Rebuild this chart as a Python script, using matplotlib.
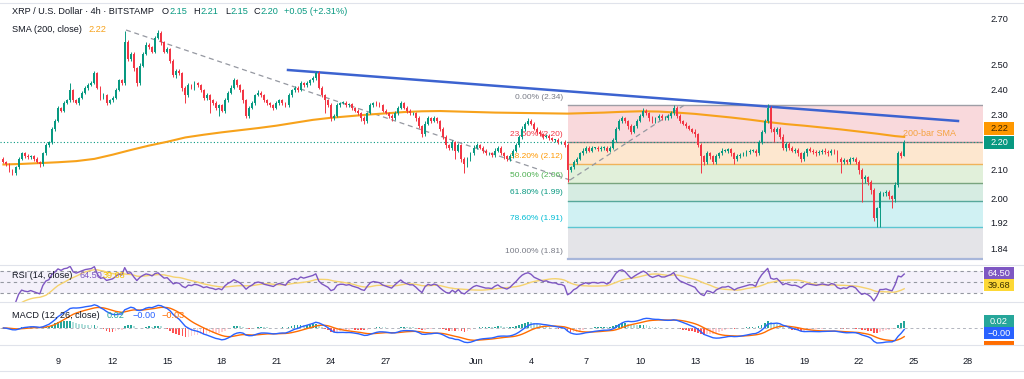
import matplotlib
matplotlib.use("Agg")
import matplotlib.pyplot as plt
import numpy as np
import pandas as pd
from matplotlib.patches import Rectangle
from matplotlib.lines import Line2D

plt.rcParams['font.family'] = ['Liberation Sans', 'DejaVu Sans']

W, H = 1024, 379

# ---- data (4h candles, XRP/USD, from 6 May) ----
first_open = 2.14
closes = [
    2.13, 2.12, 2.10, 2.09, 2.11, 2.14, 2.16, 2.15, 2.145, 2.15,
    2.14, 2.13, 2.12, 2.16, 2.19, 2.20, 2.25, 2.28, 2.33, 2.32,
    2.35, 2.36, 2.40, 2.36, 2.35, 2.37, 2.39, 2.41, 2.42, 2.43,
    2.47, 2.41, 2.37, 2.38, 2.35, 2.36, 2.37, 2.40, 2.44, 2.43,
    2.60, 2.53, 2.55, 2.49, 2.43, 2.50, 2.55, 2.59, 2.58, 2.56,
    2.62, 2.64, 2.60, 2.56, 2.57, 2.52, 2.46, 2.48, 2.47, 2.41,
    2.38, 2.42, 2.41, 2.43, 2.42, 2.40, 2.37, 2.38, 2.36, 2.35,
    2.33, 2.34, 2.32, 2.36, 2.39, 2.41, 2.44, 2.42, 2.40, 2.36,
    2.30, 2.33, 2.35, 2.38, 2.39, 2.38, 2.36, 2.35, 2.34, 2.33,
    2.35, 2.36, 2.35, 2.34, 2.38, 2.40, 2.41, 2.40, 2.43, 2.42,
    2.43, 2.44, 2.45, 2.47, 2.41, 2.38, 2.36, 2.34, 2.29, 2.30,
    2.34, 2.35, 2.35, 2.34, 2.345, 2.33, 2.32, 2.31, 2.29, 2.28,
    2.31, 2.34, 2.35, 2.345, 2.34, 2.32, 2.31, 2.30, 2.29, 2.31,
    2.33, 2.35, 2.33, 2.32, 2.31, 2.31, 2.29, 2.26, 2.23, 2.27,
    2.29, 2.28, 2.29, 2.28, 2.25, 2.22, 2.19, 2.18, 2.20, 2.17,
    2.19, 2.14, 2.12, 2.14, 2.16, 2.18, 2.19, 2.18, 2.17, 2.16,
    2.16, 2.155, 2.17, 2.18, 2.16, 2.15, 2.14, 2.15, 2.17, 2.19,
    2.22, 2.25, 2.27, 2.28, 2.27, 2.25, 2.24, 2.23, 2.22, 2.225,
    2.215, 2.21, 2.21, 2.20, 2.20, 2.19, 2.10, 2.11, 2.13, 2.14,
    2.16, 2.17, 2.18, 2.17, 2.18, 2.18, 2.175, 2.18, 2.18, 2.17,
    2.18, 2.21, 2.25, 2.28, 2.29, 2.28, 2.26, 2.24, 2.26, 2.28,
    2.30, 2.32, 2.31, 2.29, 2.28, 2.29, 2.30, 2.29, 2.29, 2.30,
    2.31, 2.33, 2.30, 2.28, 2.27, 2.26, 2.25, 2.24, 2.23, 2.19,
    2.15, 2.13, 2.16, 2.15, 2.13, 2.15, 2.16, 2.17, 2.17, 2.175,
    2.16, 2.14, 2.15, 2.155, 2.16, 2.165, 2.17, 2.17, 2.16, 2.20,
    2.24, 2.28, 2.33, 2.25, 2.24, 2.25, 2.22, 2.18, 2.195, 2.18,
    2.17, 2.172, 2.16, 2.14, 2.16, 2.175, 2.17, 2.165, 2.16, 2.165,
    2.17, 2.165, 2.16, 2.17, 2.165, 2.14, 2.13, 2.135, 2.13, 2.14,
    2.14, 2.13, 2.10, 2.07, 2.075, 2.06, 2.03, 1.94, 1.97, 2.02,
    2.02, 2.025, 2.01, 2.00, 2.05, 2.16, 2.15, 2.20,
]
# wick lengths above / below the body, in thousandths
wick_up = [
    5, 4, 6, 3, 5, 8, 6, 4, 7, 5, 4, 6, 3, 6, 8, 5, 7, 6, 9, 5,
    6, 7, 30, 5, 6, 4, 7, 5, 8, 6, 10, 6, 5, 7, 4, 6, 5, 8, 6, 7,
    50, 12, 8, 9, 6, 10, 7, 12, 9, 6, 8, 15, 9, 7, 8, 6, 10, 7, 8, 6,
    7, 8, 6, 9, 5, 7, 6, 8, 5, 6, 7, 5, 6, 8, 7, 9, 10, 6, 7, 5,
    6, 7, 8, 6, 9, 5, 6, 7, 5, 6, 8, 6, 7, 5, 9, 6, 8, 6, 7, 5,
    8, 6, 7, 10, 9, 6, 5, 7, 8, 6, 9, 5, 6, 7, 5, 6, 4, 5, 6, 7,
    6, 8, 5, 6, 7, 5, 6, 4, 5, 7, 6, 9, 5, 6, 4, 6, 5, 7, 6, 8,
    7, 5, 8, 6, 5, 7, 6, 5, 9, 6, 8, 5, 6, 7, 5, 9, 6, 5, 7, 6,
    5, 6, 8, 7, 5, 6, 4, 6, 7, 8, 6, 9, 7, 10, 6, 5, 7, 6, 5, 6,
    5, 6, 4, 6, 5, 7, 8, 6, 7, 5, 6, 8, 6, 5, 7, 4, 6, 5, 6, 5,
    6, 7, 8, 9, 8, 6, 5, 7, 6, 8, 7, 9, 6, 5, 7, 6, 8, 5, 7, 6,
    8, 10, 7, 6, 5, 7, 6, 5, 8, 6, 7, 5, 8, 6, 5, 7, 6, 8, 5, 6,
    6, 5, 7, 6, 5, 6, 7, 5, 6, 8, 7, 9, 15, 9, 7, 8, 6, 10, 7, 6,
    5, 7, 6, 5, 8, 6, 7, 5, 6, 7, 5, 8, 6, 7, 5, 6, 5, 7, 6, 8,
    6, 5, 7, 6, 8, 5, 6, 7, 5, 9, 6, 8, 7, 6, 9, 8, 7, 10,
]
wick_dn = [
    6, 5, 7, 8, 6, 5, 4, 6, 5, 7, 6, 5, 8, 6, 5, 7, 6, 8, 5, 6,
    7, 6, 5, 8, 6, 7, 5, 6, 8, 5, 6, 7, 8, 6, 9, 5, 7, 6, 5, 7,
    10, 8, 9, 12, 15, 8, 7, 6, 9, 8, 7, 6, 10, 8, 7, 9, 8, 10, 7, 12,
    30, 8, 7, 9, 6, 8, 10, 7, 50, 8, 7, 30, 6, 8, 5, 7, 6, 8, 7, 9,
    10, 8, 6, 7, 5, 9, 6, 8, 7, 9, 6, 7, 8, 6, 5, 7, 6, 8, 5, 6,
    6, 7, 5, 8, 6, 9, 50, 8, 10, 7, 6, 8, 5, 7, 6, 8, 7, 6, 9, 10,
    7, 5, 6, 8, 6, 7, 5, 8, 9, 6, 7, 5, 6, 8, 7, 6, 9, 8, 10, 7,
    6, 8, 5, 7, 9, 8, 10, 9, 8, 30, 7, 12, 30, 8, 6, 7, 5, 6, 8, 7,
    6, 8, 7, 5, 6, 9, 8, 7, 6, 5, 7, 6, 8, 5, 7, 6, 8, 7, 6, 5,
    7, 6, 8, 5, 7, 6, 40, 8, 6, 7, 5, 6, 8, 7, 6, 5, 7, 6, 8, 7,
    6, 5, 7, 6, 8, 7, 9, 8, 6, 7, 5, 6, 8, 9, 7, 6, 5, 7, 6, 8,
    7, 6, 8, 9, 7, 8, 6, 7, 9, 8, 60, 12, 8, 9, 10, 7, 8, 6, 7, 8,
    9, 20, 8, 7, 6, 8, 7, 6, 9, 5, 6, 7, 6, 10, 40, 8, 9, 7, 12, 8,
    7, 9, 8, 10, 7, 8, 6, 7, 8, 6, 9, 7, 8, 6, 7, 12, 40, 8, 9, 7,
    8, 9, 12, 80, 15, 10, 12, 10, 30, 60, 8, 9, 10, 30, 10, 8, 7, 0,
]
# SMA(200) read once per day
sma_idx = list(range(0, 295, 6)) + [297]
sma_vals = [
    2.120, 2.122, 2.125, 2.128, 2.132, 2.140, 2.155, 2.172, 2.188, 2.202,
    2.218, 2.228, 2.237, 2.245, 2.253, 2.262, 2.273, 2.284, 2.292, 2.298,
    2.304, 2.309, 2.314, 2.317, 2.318, 2.316, 2.314, 2.312, 2.311, 2.310,
    2.309, 2.308, 2.310, 2.312, 2.315, 2.317, 2.316, 2.312, 2.307, 2.300,
    2.293, 2.285, 2.276, 2.268, 2.262, 2.255, 2.248, 2.240, 2.232, 2.223,
    2.220,
]
fib_names = ['0.00%', '23.60%', '38.20%', '50.00%', '61.80%', '78.60%', '100.00%']
fib_labels = ['2.34', '2.20', '2.12', '2.06', '1.99', '1.91', '1.81']
fib_prices = [2.34, 2.20, 2.12, 2.055, 1.995, 1.91, 1.81]
fib_start = 186

price_ticks = [1.84, 1.92, 2.00, 2.10, 2.30, 2.40, 2.50, 2.70]

start = pd.Timestamp('2025-05-06')
tick_dates = ['2025-05-09', '2025-05-12', '2025-05-15', '2025-05-18', '2025-05-21',
              '2025-05-24', '2025-05-27', '2025-06-01', '2025-06-04', '2025-06-07',
              '2025-06-10', '2025-06-13', '2025-06-16', '2025-06-19', '2025-06-22',
              '2025-06-25', '2025-06-28']
tick_labels = ['9', '12', '15', '18', '21', '24', '27', 'Jun', '4', '7', '10',
               '13', '16', '19', '22', '25', '28']

# ---- derived ----
c = np.array(closes)
o = np.concatenate([[first_open], c[:-1]])
hi = np.maximum(o, c) + np.array(wick_up) / 1000
lo = np.minimum(o, c) - np.array(wick_dn) / 1000
idx = np.arange(len(c))
up = c >= o

s = pd.Series(c)
d = s.diff()
gain = d.clip(lower=0).ewm(alpha=1/14, adjust=False).mean()
loss = (-d.clip(upper=0)).ewm(alpha=1/14, adjust=False).mean()
rsi = 100 - 100 / (1 + gain / loss)
rsi_ma = rsi.rolling(14, min_periods=1).mean()
macd = s.ewm(span=12, adjust=False).mean() - s.ewm(span=26, adjust=False).mean()
signal = macd.ewm(span=9, adjust=False).mean()
hist = macd - signal

tick_pos = [(pd.Timestamp(t) - start) / pd.Timedelta('4h') for t in tick_dates]


def py(y):  # pixel row -> price on the log scale
    return 2.30 * np.exp((115.7 - y) / 598.8)


def px(x):  # pixel column -> candle index
    return (x - 3.4) / 3.033


TXT = '#131722'
fig = plt.figure(figsize=(W / 100, H / 100), dpi=100)
R = 983 / W
ax = fig.add_axes([0, 1 - 265 / H, R, 262 / H])
ax_rsi = fig.add_axes([0, 1 - 302 / H, R, 37 / H])
ax_macd = fig.add_axes([0, 1 - 345 / H, R, 43 / H])
xl = (px(0), px(983))
for a in (ax, ax_rsi, ax_macd):
    a.set_xlim(*xl)
    for sp in a.spines.values():
        sp.set_visible(False)
    a.set_xticks([])
    a.set_yticks([])

# ---- price pane ----
ax.set_yscale('log')
ax.set_ylim(py(265), py(3))
ax.minorticks_off()

fib_fill = ['#f9d9dc', '#fde7cf', '#e1f0da', '#d6ece2', '#d0f1f3', '#e4e4e8']
fib_line = ['#9e9ea6', '#a8858a', '#f0b35a', '#79a47e', '#57a89b', '#5cc6d2', '#a7b6da']
fib_txt = ['#787b86', '#f23645', '#ff9800', '#4caf50', '#089981', '#00bcd4', '#787b86']
for k in range(6):
    ax.fill_between([fib_start, xl[1]], fib_prices[k + 1], fib_prices[k],
                    color=fib_fill[k], lw=0, zorder=0)
for k, p in enumerate(fib_prices):
    ax.plot([fib_start, xl[1]], [p, p], color=fib_line[k],
            lw=1.6 if k == 6 else 1.0, zorder=1)
    ax.annotate(f'{fib_names[k]} ({fib_labels[k]})',
                (px(563), p), xytext=(0, 5.8), textcoords='offset points',
                ha='right', va='center', fontsize=6, color=fib_txt[k], zorder=1)

ax.axhline(2.20, color='#089981', ls=(0, (1, 2)), lw=0.8, zorder=1)
ax.plot([px(126), px(570)], [py(30), py(180)], color='#9598a1', ls=(0, (4, 3)), lw=0.9, zorder=2)
ax.plot([px(570), px(686)], [py(180), py(104)], color='#9598a1', ls=(0, (4, 3)), lw=0.9, zorder=2)
ax.plot(sma_idx, sma_vals, color='#f7a21b', lw=1.5, zorder=3)
ax.plot([px(288), px(958)], [py(70), py(121)], color='#3c63d0', lw=1.8, zorder=3)

col = np.where(up, '#089981', '#f23645')
ax.vlines(idx, lo, hi, colors=col, lw=0.7, zorder=4)
body = np.maximum(np.abs(c - o), 0.002)
ax.bar(idx, body, bottom=np.minimum(o, c), width=0.62, color=col, lw=0, zorder=5)

ax.text(px(903), py(133), '200-bar SMA', color='#f5a340', fontsize=6.5,
        ha='left', va='center', zorder=6)

for t in price_ticks:
    fig.text(990 / W, ax.transData.transform((0, t))[1] / H, f'{t:.2f}',
             fontsize=6.6, color=TXT, ha='left', va='center')

# ---- RSI pane ----
ax_rsi.set_ylim(13.6, 80.9)
ax_rsi.axhspan(30, 70, color='#7e57c2', alpha=0.08, lw=0)
for lvl in (70, 50, 30):
    ax_rsi.axhline(lvl, color='#9598a1', ls=(0, (3, 3)), lw=0.8)
ax_rsi.plot(idx, rsi_ma, color='#f6d36e', lw=1.0)
ax_rsi.plot(idx, rsi, color='#7e57c2', lw=1.0)

# ---- MACD pane ----
hc = []
for i, h in enumerate(hist):
    prev = hist[i - 1] if i else 0
    if h >= 0:
        hc.append('#26a69a' if h >= prev else '#b2dfdb')
    else:
        hc.append('#ff5252' if h < prev else '#ffcdd2')
ax_macd.bar(idx, hist, width=0.55, color=hc, lw=0)
ax_macd.axhline(0, color='#b2b5be', ls=(0, (3, 3)), lw=0.7)
ax_macd.plot(idx, signal, color='#ff6d00', lw=1.0)
ax_macd.plot(idx, macd, color='#2962ff', lw=1.0)
top = max(macd.max(), signal.max(), hist.max()) * 1.12
bot = top * 0.395 / 0.605
low = min(macd.min(), signal.min(), hist.min()) * 1.1
if -low > bot:
    bot = -low
    top = bot * 0.605 / 0.395
ax_macd.set_ylim(-bot, top)

for t, lab in zip(tick_pos, tick_labels):
    xf = ax_macd.transData.transform((t, 0))[0] / W
    fig.text(xf, 1 - 362 / H, lab, fontsize=6.6, color=TXT, ha='center', va='center')

# ---- pane separators ----
for yy in (3, 265, 302, 345, 371):
    fig.add_artist(Line2D([0, 1], [1 - yy / H] * 2, color='#e0e3eb', lw=0.8))

# ---- scale boxes ----
def box(y0, y1, label, bg, fg):
    fig.add_artist(Rectangle((984 / W, 1 - y1 / H), 30 / W, (y1 - y0) / H,
                             color=bg, lw=0, transform=fig.transFigure))
    fig.text(999 / W, 1 - (y0 + y1) / 2 / H, label, fontsize=6.6, color=fg,
             ha='center', va='center')

box(122, 135, '2.22', '#ff9800', '#3b2600')
box(136, 149, '2.20', '#089981', 'white')
box(267, 279, '64.50', '#7e57c2', 'white')
box(279, 291, '39.68', '#fdd835', '#3b3000')
box(315, 327, '0.02', '#26a69a', 'white')
box(327, 339, '\u22120.00', '#2962ff', 'white')
fig.add_artist(Rectangle((984 / W, 1 - 345 / H), 30 / W, 4 / H, color='#ff6d00',
                         lw=0, transform=fig.transFigure))

# ---- legends ----
renderer = fig.canvas.get_renderer()


def run(y, parts):
    x = 0
    for xpos, text, color in parts:
        if xpos is not None:
            x = xpos
        t = fig.text(x / W, 1 - y / H, text, fontsize=6.6, color=color,
                     ha='left', va='center')
        x = t.get_window_extent(renderer).x1 + 0.5


G = '#089981'
run(12, [(12, 'XRP / U.S. Dollar \u00b7 4h \u00b7 BITSTAMP', TXT),
         (162, 'O', TXT), (None, '2.15', G),
         (193, 'H', TXT), (None, '2.21', G),
         (225, 'L', TXT), (None, '2.15', G),
         (253, 'C', TXT), (None, '2.20', G),
         (284, '+0.05 (+2.31%)', G)])
run(30, [(12, 'SMA (200, close)', TXT), (88, '2.22', '#f7a21b')])
run(276, [(12, 'RSI (14, close)', TXT), (80, '64.50', '#7e57c2'), (103, '39.68', '#f2c200')])
run(316, [(12, 'MACD (12, 26, close)', TXT), (107, '0.02', '#26a69a'),
          (133, '\u22120.00', '#2962ff'), (162, '\u22120.03', '#ff6d00')])

fig.savefig('out.png', dpi=100)
